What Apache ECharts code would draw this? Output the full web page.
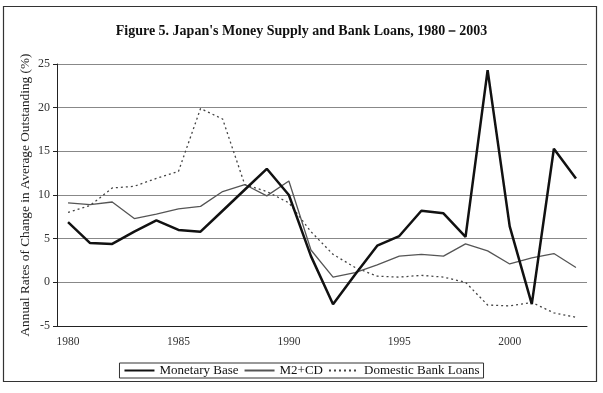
<!DOCTYPE html>
<html><head><meta charset="utf-8">
<script src="https://cdn.jsdelivr.net/npm/echarts@6/dist/echarts.min.js"></script>
<style>html,body{margin:0;padding:0;background:#fff}#c{width:603px;height:393px}</style>
</head><body><div id="c"></div>
<script>
const years = ['1980','1981','1982','1983','1984','1985','1986','1987','1988','1989','1990','1991','1992','1993','1994','1995','1996','1997','1998','1999','2000','2001','2002','2003'];
const monetaryBase = [6.9,4.5,4.4,5.8,7.1,6.0,5.8,8.2,10.6,13.0,10.0,3.0,-2.5,0.9,4.2,5.3,8.2,7.9,5.2,24.3,6.4,-2.5,15.3,11.9];
const m2cd = [9.1,8.9,9.2,7.3,7.8,8.4,8.7,10.4,11.2,9.9,11.6,3.7,0.6,1.1,2.0,3.0,3.2,3.0,4.4,3.6,2.1,2.8,3.3,1.7];
const bankLoans = [8.0,8.8,10.8,11.0,11.9,12.7,19.9,18.7,11.2,10.4,9.1,5.8,3.2,1.7,0.7,0.6,0.8,0.6,0.0,-2.6,-2.7,-2.3,-3.5,-4.0];
const yTicks = {min:-5, max:25, step:5};

const FONT = 'Liberation Serif';
const chart = echarts.init(document.getElementById('c'), null, {renderer:'canvas'});
chart.setOption({
  backgroundColor:'#fff',
  animation:false,
  textStyle:{fontFamily:FONT},
  graphic:[{type:'rect', shape:{x:3.5,y:6.5,width:593,height:375}, style:{fill:'none', stroke:'#333', lineWidth:1.2}, z:-1}],
  title:{text:"Figure 5. Japan's Money Supply and Bank Loans, 1980－2003", left:'center', top:19,
    textStyle:{fontFamily:FONT, fontSize:14, fontWeight:'bold', color:'#111'}},
  legend:{bottom:15, left:'center', itemWidth:30, itemHeight:10, itemGap:5,
    borderColor:'#333', borderWidth:1, padding:[1,4,1,4],
    itemStyle:{color:'transparent', borderColor:'transparent', borderWidth:0},
    textStyle:{fontFamily:FONT, fontSize:13, color:'#111'},
    data:['Monetary Base','M2+CD','Domestic Bank Loans']},
  grid:{left:57, right:16, top:64, bottom:67},
  xAxis:[{type:'category', data:years, boundaryGap:true,
    axisLine:{onZero:false, lineStyle:{color:'#222', width:1}},
    axisTick:{interval:0, length:3, lineStyle:{color:'#222'}},
    axisLabel:{interval:4, fontFamily:FONT, fontSize:11.5, color:'#333', margin:10},
    splitLine:{show:false}},
   {type:'category', data:years, position:'bottom', boundaryGap:true,
    axisLine:{show:false}, axisTick:{inside:true, interval:0, length:3, lineStyle:{color:'#222'}},
    axisLabel:{show:false}, splitLine:{show:false}}],
  yAxis:{type:'value', min:yTicks.min, max:yTicks.max, interval:yTicks.step,
    name:'Annual Rates of Change in Average Outstanding (%)', nameLocation:'middle', nameGap:25,
    nameMoveOverlap:false,
    nameTextStyle:{fontFamily:FONT, fontSize:13.3, color:'#222'},
    axisLine:{show:true, lineStyle:{color:'#222'}},
    axisTick:{show:true, length:4, lineStyle:{color:'#222'}},
    axisLabel:{fontFamily:FONT, fontSize:12, color:'#333', margin:7},
    splitLine:{lineStyle:{color:'#888', width:1.2}}},
  series:[
    {name:'Monetary Base', type:'line', data:monetaryBase, symbol:'none', lineStyle:{color:'#111', width:2.5}, itemStyle:{color:'#111'}, z:4},
    {name:'M2+CD', type:'line', data:m2cd, symbol:'none', lineStyle:{color:'#555', width:1.3}, itemStyle:{color:'#555'}, z:3},
    {name:'Domestic Bank Loans', type:'line', data:bankLoans, symbol:'none', lineStyle:{color:'#444', width:1.3, type:[2,3]}, itemStyle:{color:'#444'}, z:2}
  ]
});
</script></body></html>
